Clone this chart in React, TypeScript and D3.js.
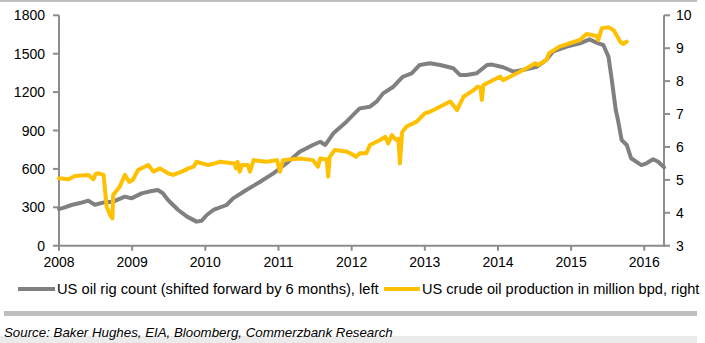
import React from "react";
import * as d3 from "d3";

const rigDates = [2008.00,2008.08,2008.17,2008.30,2008.40,2008.49,2008.63,2008.74,2008.90,2008.99,2009.13,2009.25,2009.35,2009.42,2009.49,2009.63,2009.75,2009.88,2009.95,2010.02,2010.11,2010.29,2010.38,2010.56,2010.75,2010.93,2011.11,2011.29,2011.47,2011.57,2011.64,2011.75,2011.93,2012.00,2012.11,2012.25,2012.34,2012.43,2012.57,2012.70,2012.82,2012.93,2013.07,2013.21,2013.39,2013.48,2013.57,2013.71,2013.85,2013.92,2014.07,2014.21,2014.34,2014.53,2014.66,2014.75,2014.94,2015.12,2015.25,2015.37,2015.44,2015.51,2015.55,2015.61,2015.64,2015.69,2015.76,2015.82,2015.96,2016.03,2016.12,2016.19,2016.27];
const rigValues = [285,300,318,335,352,320,340,344,383,370,409,425,435,410,357,279,227,188,195,240,279,318,370,435,500,565,644,734,787,812,787,878,969,1010,1073,1086,1125,1190,1242,1320,1347,1412,1425,1412,1386,1334,1334,1347,1412,1415,1394,1360,1373,1398,1451,1516,1555,1581,1612,1581,1568,1477,1320,1060,982,826,787,683,630,644,675,656,612];

const prodDates = [2008.00,2008.13,2008.22,2008.40,2008.47,2008.50,2008.54,2008.61,2008.65,2008.70,2008.73,2008.74,2008.83,2008.90,2008.96,2009.01,2009.08,2009.22,2009.29,2009.38,2009.49,2009.56,2009.68,2009.77,2009.84,2009.88,2009.95,2010.04,2010.13,2010.20,2010.40,2010.42,2010.44,2010.47,2010.50,2010.58,2010.61,2010.66,2010.84,2010.98,2011.02,2011.06,2011.29,2011.47,2011.54,2011.57,2011.66,2011.68,2011.70,2011.77,2011.93,2012.02,2012.06,2012.11,2012.20,2012.25,2012.39,2012.46,2012.50,2012.55,2012.61,2012.64,2012.66,2012.69,2012.75,2012.89,2013.00,2013.07,2013.16,2013.30,2013.35,2013.44,2013.53,2013.67,2013.72,2013.76,2013.78,2013.80,2013.89,2014.03,2014.07,2014.17,2014.26,2014.39,2014.51,2014.55,2014.66,2014.70,2014.84,2014.98,2015.12,2015.21,2015.35,2015.37,2015.42,2015.51,2015.58,2015.62,2015.67,2015.71,2015.76];
const prodValues = [5.05,5.02,5.12,5.15,5.02,5.18,5.20,5.15,4.19,3.93,3.83,4.54,4.79,5.15,4.94,5.00,5.30,5.45,5.25,5.35,5.20,5.15,5.25,5.35,5.40,5.55,5.50,5.45,5.50,5.55,5.50,5.35,5.55,5.25,5.45,5.45,5.25,5.60,5.55,5.60,5.25,5.60,5.65,5.60,5.40,5.65,5.62,5.10,5.70,5.91,5.86,5.76,5.70,5.81,5.81,6.06,6.21,6.31,6.11,6.36,6.21,6.25,5.50,6.45,6.62,6.77,7.02,7.07,7.17,7.33,7.38,7.12,7.53,7.73,7.83,7.80,7.43,7.88,7.98,8.14,8.03,8.14,8.24,8.39,8.54,8.49,8.64,8.85,9.05,9.15,9.25,9.43,9.37,9.25,9.61,9.64,9.55,9.40,9.20,9.13,9.20];

const xTicks = [2008,2009,2010,2011,2012,2013,2014,2015,2016];
const leftTicks = [0,300,600,900,1200,1500,1800];
const rightTicks = [3,4,5,6,7,8,9,10];
const legendLabels = ["US oil rig count (shifted forward by 6 months), left", "US crude oil production in million bpd, right"];
const sourceText = "Source: Baker Hughes, EIA, Bloomberg, Commerzbank Research";

const GRAY = "#808080";
const YELLOW = "#FFC000";
const AXIS = "#8c8c8c";
const FONT = "'Liberation Sans', Arial, sans-serif";

export default function App() {
  const x0 = 59, x1 = 664, yTop = 15.3, yBot = 245.7;
  const x = d3.scaleLinear().domain([2008, 2016 + 19.7 / 73.16]).range([x0, x1]);
  const yL = d3.scaleLinear().domain([0, 1800]).range([yBot, yTop]);
  const yR = d3.scaleLinear().domain([3, 10]).range([yBot, yTop]);

  const rigLine = d3.line<number>().x((_, i) => x(rigDates[i])).y((d) => yL(d))(rigValues) || "";
  const prodLine = d3.line<number>().x((_, i) => x(prodDates[i])).y((d) => yR(d))(prodValues) || "";

  return (
    <svg width={705} height={343} style={{ position: "absolute", left: 0, top: 0 }} fontFamily={FONT}>
      <rect x={0} y={0} width={705} height={343} fill="#fff" />
      <line x1={0} x2={697} y1={1} y2={1} stroke="#bfbfbf" strokeWidth={2} />
      {/* left axis */}
      <line x1={x0} x2={x0} y1={yTop} y2={yBot + 1} stroke={AXIS} strokeWidth={2} />
      {leftTicks.map((t) => (
        <g key={"l" + t}>
          <line x1={x0 - 6} x2={x0} y1={yL(t)} y2={yL(t)} stroke={AXIS} strokeWidth={2} />
          <text x={45} y={yL(t) + 5} textAnchor="end" fontSize={14} fill="#000">{t}</text>
        </g>
      ))}
      {/* right axis */}
      <line x1={x1} x2={x1} y1={yTop} y2={yBot + 1} stroke={AXIS} strokeWidth={2} />
      {rightTicks.map((t) => (
        <g key={"r" + t}>
          <line x1={x1} x2={x1 + 6} y1={yR(t)} y2={yR(t)} stroke={AXIS} strokeWidth={2} />
          <text x={676} y={yR(t) + 5} textAnchor="start" fontSize={14} fill="#000">{t}</text>
        </g>
      ))}
      {/* x axis */}
      <line x1={x0 - 1} x2={x1 + 1} y1={yBot} y2={yBot} stroke={AXIS} strokeWidth={2} />
      {xTicks.map((t) => (
        <g key={"x" + t}>
          <line x1={x(t)} x2={x(t)} y1={yBot} y2={yBot + 5} stroke={AXIS} strokeWidth={2} />
          <text x={x(t)} y={267} textAnchor="middle" fontSize={14} fill="#000">{t}</text>
        </g>
      ))}
      <path d={rigLine} fill="none" stroke={GRAY} strokeWidth={4} strokeLinejoin="round" strokeLinecap="round" />
      <path d={prodLine} fill="none" stroke={YELLOW} strokeWidth={4} strokeLinejoin="round" strokeLinecap="round" />
      {/* legend */}
      <line x1={18} x2={55} y1={289} y2={289} stroke={GRAY} strokeWidth={4} />
      <text x={57} y={294} fontSize={14.7} fill="#000">{legendLabels[0]}</text>
      <line x1={384} x2={420} y1={289} y2={289} stroke={YELLOW} strokeWidth={4} />
      <text x={422} y={294} fontSize={14.6} fill="#000">{legendLabels[1]}</text>
      {/* footer */}
      <rect x={4} y={311} width={693} height={5} fill="#bfbfbf" />
      <rect x={0} y={336} width={697} height={7} fill="#ebebeb" />
      <text x={4} y={337} fontSize={13.3} fontStyle="italic" fill="#000">{sourceText}</text>
    </svg>
  );
}
